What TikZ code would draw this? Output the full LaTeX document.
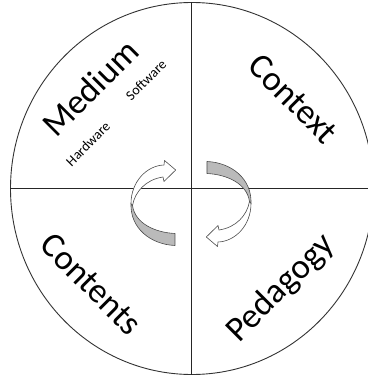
\documentclass[tikz,border=0pt]{standalone}
\usepackage{fontspec}
\setmainfont{Carlito}
\tikzset{
  rim/.style={draw=black!80, line width=0.9pt},
  axis/.style={draw=black!85, line width=1pt},
  big/.style={font=\fontsize{35}{40}\selectfont, inner sep=0pt},
  small/.style={font=\fontsize{14}{16}\selectfont, inner sep=0pt},
  band/.style={fill=black!27, draw=black!70, line width=0.6pt, line join=round},
  ribbon/.style={fill=white, draw=black!70, line width=0.6pt, line join=round},
  twist/.pic={
    % back face of the ribbon
    \path[band] (-60,0) .. controls (-61,-25) and (-40,-41) .. (-16,-42)
      -- (-16,-30) .. controls (-36,-29) and (-56,-20) .. (-58.5,-2) -- cycle;
    % front face with the head
    \path[ribbon] (-60,0) .. controls (-60,22) and (-44,38) .. (-27,38.5)
      -- (-26.5,43) -- (-15.3,33.5) -- (-27,22) -- (-28,26.5)
      .. controls (-45,24) and (-56,12) .. (-58.5,-2) -- cycle;
  },
}
\begin{document}
\begin{tikzpicture}[x=1pt,y=1pt]
  \useasboundingbox (-192,-186.5) rectangle (175,188.5);
  \draw[rim] (0,0) ellipse [x radius=181.5, y radius=186];
  \draw[axis] (-181.5,0) -- (181.5,0);
  \draw[axis] (0,-186) -- (0,186);

  % turning arrows
  \pic at (-1,-15) {twist};
  \pic[rotate=180] at (-1,-15) {twist};

  % quarter labels
  \node[big, rotate=45]  (medium)   at (-102,100.5) {Medium};
  \node[small, rotate=45] (hardware) at (-104,44.5) {Hardware};
  \node[small, rotate=45] (software) at (-46,108.5) {Software};
  \node[big, rotate=-45] (context)  at (101,89.5)   {Context};
  \node[big, rotate=-45] (contents) at (-101,-95.5) {Contents};
  \node[big, rotate=45]  (pedagogy) at (89,-100)    {Pedagogy};
\end{tikzpicture}
\end{document}
